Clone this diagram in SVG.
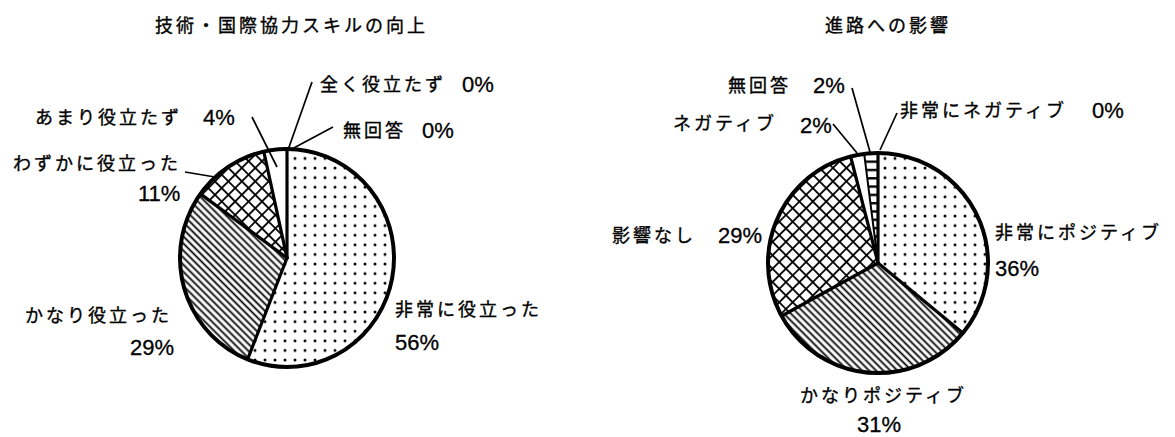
<svg xmlns="http://www.w3.org/2000/svg" width="1175" height="437" viewBox="0 0 1175 437">
<defs>
<style>
.jp{font-family:"Noto Sans CJK JP","Noto Sans CJK SC",sans-serif;font-size:18px;letter-spacing:3px;fill:#000;stroke:#000;stroke-width:0.35}
.num{font-family:"Liberation Sans",Arial,sans-serif;font-size:22px;fill:#000;stroke:#000;stroke-width:0.3}
.edge{fill:none;stroke:#000;stroke-width:4}
.div{stroke:#000;stroke-width:3.2;fill:none;stroke-linecap:round}
.lead{stroke:#000;stroke-width:1.7;fill:none}
</style>
<pattern id="dots" patternUnits="userSpaceOnUse" width="10" height="9.6">
<rect width="10" height="9.6" fill="#fff"/>
<circle cx="5" cy="4.8" r="1.5" fill="#000"/>
</pattern>
<pattern id="hatch" patternUnits="userSpaceOnUse" width="5" height="5" patternTransform="rotate(45)">
<rect width="5" height="5" fill="#fff"/>
<line x1="0" y1="2.5" x2="5" y2="2.5" stroke="#000" stroke-width="1.8"/>
</pattern>
<pattern id="cross" patternUnits="userSpaceOnUse" width="9.5" height="9.5" patternTransform="rotate(45)">
<rect width="9.5" height="9.5" fill="#fff"/>
<line x1="0" y1="4.75" x2="9.5" y2="4.75" stroke="#000" stroke-width="1.8"/>
<line x1="4.75" y1="0" x2="4.75" y2="9.5" stroke="#000" stroke-width="1.8"/>
</pattern>
<pattern id="stripes" patternUnits="userSpaceOnUse" width="10" height="8.3">
<rect width="10" height="8.3" fill="#fff"/>
<line x1="0" y1="4" x2="10" y2="4" stroke="#000" stroke-width="2.4"/>
</pattern>
</defs>
<rect width="1175" height="437" fill="#fff"/>

<!-- Left chart -->
<g id="title-left"><text class="jp" x="155" y="32">技術・国際協力スキルの向上</text></g>

<g id="slice-hijou-yakudatta">
<path d="M287,258 L287,149 A107,109 0 1 1 247.6,359.3 Z" fill="url(#dots)"/>
<text class="jp" x="395" y="315.5">非常に役立った</text>
<text class="num" x="395" y="350">56%</text>
</g>
<g id="slice-kanari-yakudatta">
<path d="M287,258 L247.6,359.3 A107,109 0 0 1 200.4,193.9 Z" fill="url(#hatch)"/>
<text class="jp" x="25" y="321.5">かなり役立った</text>
<text class="num" x="130" y="355">29%</text>
</g>
<g id="slice-wazuka">
<path d="M287,258 L200.4,193.9 A107,109 0 0 1 263.8,151.6 Z" fill="url(#cross)"/>
<text class="jp" x="13" y="169.5">わずかに役立った</text>
<text class="num" x="138" y="200.5">11%</text>
</g>
<g id="slice-amari">
<path d="M287,258 L263.8,151.6 A107,109 0 0 1 287,149 Z" fill="#fff"/>
<text class="jp" x="35" y="123.5">あまり役立たず</text>
<text class="num" x="203" y="124.5">4%</text>
</g>
<g id="label-mattaku">
<text class="jp" x="320" y="90.5">全く役立たず</text>
<text class="num" x="462" y="91.5">0%</text>
</g>
<g id="label-mukaitou-left">
<text class="jp" x="343" y="136.5">無回答</text>
<text class="num" x="422" y="137.5">0%</text>
</g>
<g id="pie-left-lines">
<line class="div" x1="287" y1="258" x2="287" y2="149"/>
<line class="div" x1="287" y1="258" x2="247.6" y2="359.3"/>
<line class="div" x1="287" y1="258" x2="200.4" y2="193.9"/>
<line class="div" x1="287" y1="258" x2="263.8" y2="151.6"/>
<ellipse class="edge" cx="287" cy="258" rx="107" ry="109"/>
</g>

<!-- Right chart -->
<g id="title-right"><text class="jp" x="825" y="32">進路への影響</text></g>

<g id="slice-hijou-positive">
<path d="M878,263 L878,153 A110,110 0 0 1 962.8,333.1 Z" fill="url(#dots)"/>
<text class="jp" x="995" y="238.5">非常にポジティブ</text>
<text class="num" x="995" y="275.5">36%</text>
</g>
<g id="slice-kanari-positive">
<path d="M878,263 L962.8,333.1 A110,110 0 0 1 781.6,316 Z" fill="url(#hatch)"/>
<text class="jp" x="800" y="401.5">かなりポジティブ</text>
<text class="num" x="857" y="432">31%</text>
</g>
<g id="slice-eikyou-nashi">
<path d="M878,263 L781.6,316 A110,110 0 0 1 850.6,156.5 Z" fill="url(#cross)"/>
<text class="jp" x="612" y="241.5">影響なし</text>
<text class="num" x="718" y="242.5">29%</text>
</g>
<g id="slice-negative">
<path d="M878,263 L850.6,156.5 A110,110 0 0 1 864.2,153.9 Z" fill="#fff"/>
<text class="jp" x="673" y="129.5">ネガティブ</text>
<text class="num" x="800" y="132.5">2%</text>
</g>
<g id="slice-mukaitou-right">
<path d="M878,263 L864.2,153.9 A110,110 0 0 1 878,153 Z" fill="url(#stripes)"/>
<text class="jp" x="728" y="91.5">無回答</text>
<text class="num" x="813" y="92.5">2%</text>
</g>
<g id="label-hijou-negative">
<text class="jp" x="900" y="116.5">非常にネガティブ</text>
<text class="num" x="1092" y="117.5">0%</text>
</g>
<g id="pie-right-lines">
<line class="div" x1="878" y1="263" x2="878" y2="153"/>
<line class="div" x1="878" y1="263" x2="962.8" y2="333.1"/>
<line class="div" x1="878" y1="263" x2="781.6" y2="316"/>
<line class="div" x1="878" y1="263" x2="850.6" y2="156.5"/>
<line class="div" x1="878" y1="263" x2="864.2" y2="153.9" style="stroke-width:2"/>
<circle class="edge" cx="878" cy="263" r="110"/>
</g>

<g id="connectors">
<line class="lead" x1="312" y1="82" x2="288" y2="150"/>
<line class="lead" x1="333" y1="127" x2="290" y2="150"/>
<line class="lead" x1="252" y1="117" x2="277" y2="167"/>
<line class="lead" x1="185" y1="172" x2="215" y2="177"/>
<line class="lead" x1="852" y1="88" x2="870" y2="152"/>
<line class="lead" x1="897" y1="113" x2="880" y2="150"/>
<line class="lead" x1="833" y1="124" x2="857" y2="153"/>
</g>
</svg>
